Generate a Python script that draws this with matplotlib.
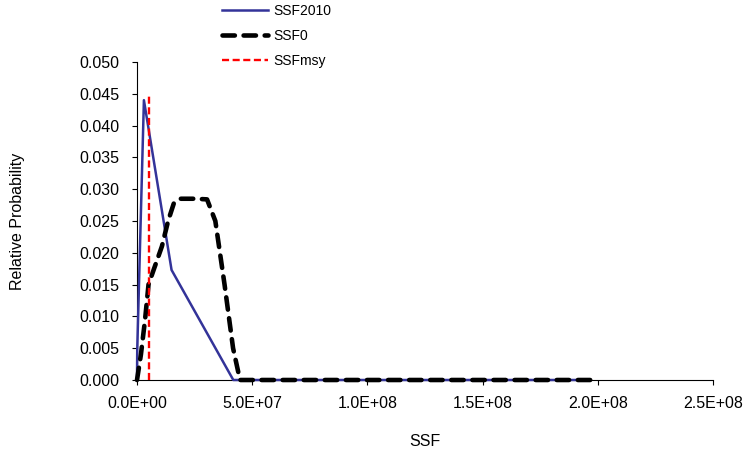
import matplotlib
matplotlib.use("Agg")
import matplotlib.pyplot as plt
from matplotlib.ticker import FuncFormatter, MultipleLocator

plt.rcParams['font.family'] = ['Liberation Sans', 'DejaVu Sans']

# SSF2010 (blue)
ssf2010_x = [0, 1.0e5, 3.0e6, 1.5e7, 4.18e7, 1.9e8]
ssf2010_y = [0, 0.0047, 0.0440, 0.0173, 0.0, 0.0]

# SSF0 (black dashed)
ssf0_x = [0, 1.7e6, 3.5e6, 5.0e6, 7.4e6, 1.08e7, 1.35e7, 1.6e7, 1.9e7, 2.5e7,
          3.04e7, 3.4e7, 3.8e7, 4.17e7, 4.47e7, 1.0e8, 2.0e8]
ssf0_y = [0, 0.004, 0.0095, 0.0150, 0.0175, 0.0210, 0.0250, 0.0278, 0.0285, 0.0285,
          0.0284, 0.0250, 0.0150, 0.0050, 0.0, 0.0, 0.0]

# SSFmsy (red vertical)
ssfmsy_x = [5.3e6, 5.3e6]
ssfmsy_y = [0.0, 0.0448]

fig = plt.figure(figsize=(7.48, 4.55), dpi=100)
ax = fig.add_axes([137/748, 1 - 380/455, 576/748, 318/455])

ax.plot(ssf2010_x, ssf2010_y, color='#333399', lw=1.8, label='SSF2010', clip_on=False, zorder=3)
ax.plot(ssf0_x, ssf0_y, color='black', lw=3.3, dashes=(2.7, 1.9), dash_capstyle='round',
        label='SSF0', clip_on=False, zorder=4)
ax.plot(ssfmsy_x, ssfmsy_y, color='#FF0000', lw=1.7, dashes=(3.0, 1.5),
        label='SSFmsy', clip_on=False, zorder=5)

ax.set_xlim(0, 2.5e8)
ax.set_ylim(0, 0.05)
ax.xaxis.set_major_locator(MultipleLocator(0.5e8))
ax.yaxis.set_major_locator(MultipleLocator(0.005))
ax.xaxis.set_major_formatter(FuncFormatter(lambda v, p: '{:.1E}'.format(v)))
ax.yaxis.set_major_formatter(FuncFormatter(lambda v, p: '{:.3f}'.format(v)))

for s in ['top', 'right']:
    ax.spines[s].set_visible(False)
for s in ['left', 'bottom']:
    ax.spines[s].set_color('black')
    ax.spines[s].set_linewidth(0.8)

ax.tick_params(axis='y', direction='out', length=3.6, width=0.8, pad=9, labelsize=11.5)
ax.tick_params(axis='x', direction='out', length=3.6, width=0.8, pad=8, labelsize=11.5)

fig.text(18/748, 1 - 221/455, 'Relative Probability', rotation=90, ha='center', va='center', fontsize=11.5)
fig.text(425/748, 1 - 441/455, 'SSF', ha='center', va='center', fontsize=11.5)

fig.legend(loc='upper left', bbox_to_anchor=(222/748, 1 - 4/455), frameon=False,
           fontsize=10, handlelength=3.3, handletextpad=0.4, labelspacing=0.8,
           borderpad=0, borderaxespad=0)

fig.savefig('out.png', dpi=100)
